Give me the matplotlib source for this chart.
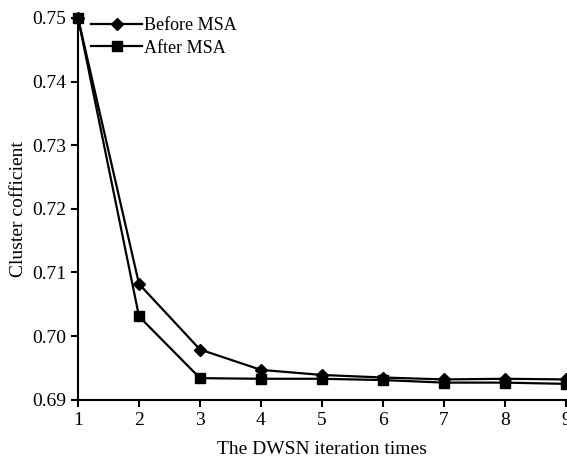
import matplotlib
matplotlib.use("Agg")
import matplotlib.pyplot as plt

plt.rcParams['font.family'] = ['Liberation Serif', 'DejaVu Serif']

iterations = [1, 2, 3, 4, 5, 6, 7, 8, 9]
before_msa = [0.750, 0.7082, 0.6979, 0.6947, 0.6939, 0.6935, 0.6932, 0.6933, 0.6932]
after_msa = [0.750, 0.7031, 0.6934, 0.6933, 0.6933, 0.6931, 0.6927, 0.6927, 0.6925]
yticks = [0.69, 0.70, 0.71, 0.72, 0.73, 0.74, 0.75]
ytick_labels = ['0.69', '0.70', '0.71', '0.72', '0.73', '0.74', '0.75']

fig = plt.figure(figsize=(5.67, 4.59), dpi=100)
ax = fig.add_axes([0.1376, 0.129, 0.8605, 0.832])

ax.plot(iterations, before_msa, color='black', lw=1.6, marker='D', ms=6,
        label='Before MSA', clip_on=False, zorder=3)
ax.plot(iterations, after_msa, color='black', lw=1.6, marker='s', ms=7.5,
        label='After MSA', clip_on=False, zorder=3)

ax.set_xlim(1, 9)
ax.set_ylim(0.69, 0.75)
ax.set_xticks(iterations)
ax.set_yticks(yticks)
ax.set_yticklabels(ytick_labels)
ax.tick_params(direction='out', length=5, width=1.5, labelsize=14, colors='black')

for side in ['top', 'right']:
    ax.spines[side].set_visible(False)
for side in ['left', 'bottom']:
    ax.spines[side].set_linewidth(1.5)

ax.set_xlabel('The DWSN iteration times', fontsize=14, labelpad=9)
ax.set_ylabel('Cluster cofficient', fontsize=14, labelpad=4)

ax.legend(loc='upper left', bbox_to_anchor=(0.005, 1.03), frameon=False,
          fontsize=13, handlelength=2.8, handletextpad=0.1, labelspacing=0.3,
          borderaxespad=0.2)

fig.savefig('out.png', dpi=100)
